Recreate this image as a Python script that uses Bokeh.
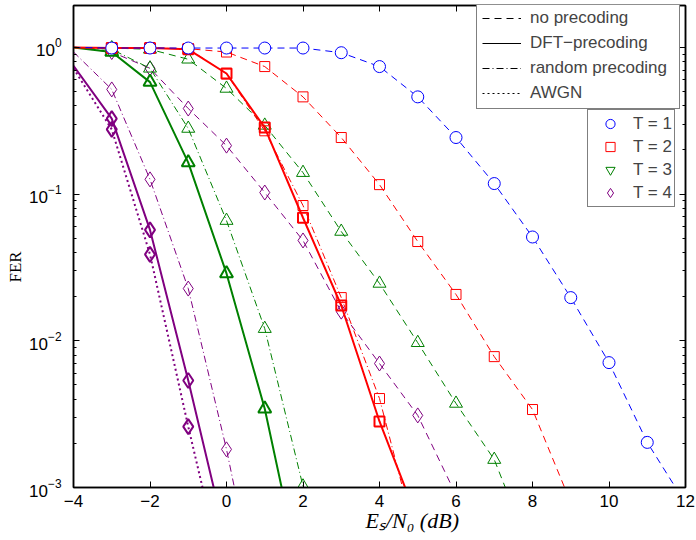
import math
from bokeh.plotting import figure
from bokeh.models import (Range1d, LinearAxis, LogAxis, FixedTicker, Legend, LegendItem,
                          Title, CustomJSTickFormatter)
from bokeh.embed import file_html
from bokeh.resources import INLINE

# ---------------- data ----------------
x_ticks = [-4, -2, 0, 2, 4, 6, 8, 10, 12]
y_ticks = [1e-3, 1e-2, 1e-1, 1.0]

# T = 1
snr_t1_none = [-4, -3, -2, -1, 0, 1, 2, 3, 4, 5, 6, 7, 8, 9, 10, 11, 12]
fer_t1_none = [1.0, 0.99, 0.99, 0.99, 0.99, 0.99, 0.99, 0.92, 0.74, 0.46, 0.243, 0.118,
               0.051, 0.0197, 0.0071, 0.00203, 0.00078]

# T = 2
snr_t2_none = [-4, -3, -2, -1, 0, 1, 2, 3, 4, 5, 6, 7, 8, 9]
fer_t2_none = [1.0, 0.99, 0.99, 0.98, 0.93, 0.74, 0.46, 0.243, 0.116, 0.0475, 0.0207,
               0.0078, 0.0034, 0.00079]
snr_t2_dft = [-4, -3, -2, -1, 0, 1, 2, 3, 4, 5]
fer_t2_dft = [1.0, 0.99, 0.99, 0.97, 0.664, 0.284, 0.069, 0.0174, 0.00282, 0.0006]
snr_t2_rand = [-4, -3, -2, -1, 0, 1, 2, 3, 4, 5]
fer_t2_rand = [1.0, 0.99, 0.99, 0.98, 0.66, 0.27, 0.0836, 0.0197, 0.00404, 0.0004]

# T = 3
snr_t3_none = [-4, -3, -2, -1, 0, 1, 2, 3, 4, 5, 6, 7, 8]
fer_t3_none = [1.0, 0.99, 0.97, 0.83, 0.525, 0.294, 0.14, 0.0556, 0.0246, 0.0097,
               0.00374, 0.00155, 0.00034]
snr_t3_dft = [-4, -3, -2, -1, 0, 1, 2]
fer_t3_dft = [1.0, 0.93, 0.58, 0.164, 0.0288, 0.00344, 0.00021]
snr_t3_rand = [-4, -3, -2, -1, 0, 1, 2, 3]
fer_t3_rand = [1.0, 0.97, 0.72, 0.28, 0.066, 0.0121, 0.00102, 0.0001]

# T = 4
snr_t4_none = [-4, -3, -2, -1, 0, 1, 2, 3, 4, 5, 6]
fer_t4_none = [1.0, 0.93, 0.72, 0.383, 0.214, 0.1025, 0.0483, 0.0158, 0.0070, 0.0031, 0.00089]
snr_t4_dft = [-4, -3, -2, -1, 0]
fer_t4_dft = [0.75, 0.327, 0.057, 0.00536, 0.00043]
snr_t4_rand = [-4, -3, -2, -1, 0, 1]
fer_t4_rand = [0.93, 0.517, 0.126, 0.0227, 0.00182, 0.0001]
snr_awgn = [-4, -3, -2, -1, 0]
fer_awgn = [0.72, 0.276, 0.0388, 0.0026, 0.0002]

legend_styles = ["no precoding", "DFT\u2212precoding", "random precoding", "AWGN"]
legend_T = ["T = 1", "T = 2", "T = 3", "T = 4"]
x_label = "E\u209b/N\u2080 (dB)"
y_label = "FER"

# ---------------- figure ----------------
BLUE, RED, GREEN, PURPLE = "#0000ff", "#ff0000", "#008000", "#800080"
DASH, DASHDOT, DOT = "7 5", "7 3 1 3", "2 3"
TICK_FONT = "Liberation Sans"
NAN = [float("nan")]

p = figure(width=696, height=540, x_range=Range1d(-4, 12), y_range=Range1d(1e-3, 1.93),
           y_axis_type="log", output_backend="svg", toolbar_location=None,
           min_border_left=73, min_border_right=11, min_border_top=5, min_border_bottom=53)
p.xgrid.visible = False
p.ygrid.visible = False
p.background_fill_color = "white"
p.border_fill_color = "white"
p.outline_line_color = "black"
p.outline_line_width = 1.5

minor = [m * 10 ** e for e in range(-3, 1) for m in range(2, 10)]
xticker = FixedTicker(ticks=x_ticks, minor_ticks=[])
yticker = FixedTicker(ticks=y_ticks, minor_ticks=minor)
blank = CustomJSTickFormatter(code="return '';")


def style_axis(ax, labels=True):
    ax.axis_line_color = "black"
    ax.axis_line_width = 1.5
    ax.major_tick_in = 6
    ax.major_tick_out = 0
    ax.minor_tick_in = 3
    ax.minor_tick_out = 0
    ax.major_tick_line_color = "black"
    ax.minor_tick_line_color = "black"
    ax.major_label_text_font = TICK_FONT
    ax.major_label_text_color = "black"
    if labels:
        ax.major_label_text_font_size = "17px"
    else:
        ax.formatter = blank
        ax.major_label_text_font_size = "1px"
        ax.major_label_standoff = 0


xa = p.xaxis[0]
xa.ticker = xticker
xa.formatter = CustomJSTickFormatter(
    code="return (tick < 0 ? '\\u2212' : '') + Math.abs(tick).toString();")
style_axis(xa)
xa.major_label_standoff = 7

ya = p.yaxis[0]
ya.ticker = yticker
style_axis(ya)
ya.major_label_standoff = 12

top = LinearAxis(ticker=xticker)
style_axis(top, labels=False)
p.add_layout(top, "above")
right = LogAxis(ticker=yticker)
style_axis(right, labels=False)
p.add_layout(right, "right")


def series(xs, ys, color, dash, lw, marker, msize, mlw, fill=None):
    p.line(xs, ys, line_color=color, line_dash=dash, line_width=lw)
    p.scatter(xs[1:], ys[1:], marker=marker, size=msize, line_color=color,
              line_width=mlw, fill_color=fill)


# T = 4
series(snr_awgn, fer_awgn, PURPLE, DOT, 2, "diamond", 15, 2)
series(snr_t4_rand, fer_t4_rand, PURPLE, DASHDOT, 1, "diamond", 15, 1)
series(snr_t4_dft, fer_t4_dft, PURPLE, "solid", 2, "diamond", 15, 2)
series(snr_t4_none, fer_t4_none, PURPLE, DASH, 1, "diamond", 15, 1)
# T = 3
series(snr_t3_rand, fer_t3_rand, GREEN, DASHDOT, 1, "triangle", 13, 1)
series(snr_t3_dft, fer_t3_dft, GREEN, "solid", 2, "triangle", 13, 2)
series(snr_t3_none, fer_t3_none, GREEN, DASH, 1, "triangle", 13, 1)
# T = 2
series(snr_t2_rand, fer_t2_rand, RED, DASHDOT, 1, "square", 10, 1)
series(snr_t2_dft, fer_t2_dft, RED, "solid", 2, "square", 10, 2)
series(snr_t2_none, fer_t2_none, RED, DASH, 1, "square", 10, 1)
# T = 1
series(snr_t1_none, fer_t1_none, BLUE, DASH, 1, "circle", 12, 1, fill="white")

# ---------------- legends (key-only renderers hold no drawable point) ----------------
ldash = p.line(NAN, NAN, line_color="black", line_dash=DASH, line_width=1)
lsolid = p.line(NAN, NAN, line_color="black", line_width=1)
ldd = p.line(NAN, NAN, line_color="black", line_dash=DASHDOT, line_width=1)
ldot = p.line(NAN, NAN, line_color="black", line_dash=DOT, line_width=1)
leg1 = Legend(items=[LegendItem(label=t, renderers=[r]) for t, r in
                     zip(legend_styles, [ldash, lsolid, ldd, ldot])],
              location=(403, 378), padding=5, spacing=5, glyph_height=18, glyph_width=39,
              label_standoff=9, label_width=144, label_text_font=TICK_FONT,
              label_text_font_size="17px", border_line_color="black", border_line_width=1,
              background_fill_color="white", background_fill_alpha=1.0, margin=0)

mk = []
for col, m in zip([BLUE, RED, GREEN, PURPLE], ["circle", "square", "inverted_triangle", "diamond"]):
    mk.append(p.scatter(NAN, NAN, marker=m, size=11, line_color=col, fill_color=None,
                        line_width=1))
leg2 = Legend(items=[LegendItem(label=t, renderers=[r]) for t, r in zip(legend_T, mk)],
              location=(514, 280), padding=2, spacing=0, glyph_height=23, glyph_width=40,
              label_standoff=3, label_width=39, label_text_font=TICK_FONT,
              label_text_font_size="17px", border_line_color="black", border_line_width=1,
              background_fill_color="white", background_fill_alpha=1.0, margin=0)
p.add_layout(leg1)
p.add_layout(leg2)

# ---------------- axis titles ----------------
p.add_layout(Title(text=x_label, align="left", offset=292, standoff=-8,
                   text_font="Liberation Serif", text_font_style="italic",
                   text_font_size="22px", text_color="black"), "below")
p.add_layout(Title(text=y_label, align="left", offset=205, standoff=4,
                   text_font="Liberation Serif", text_font_style="normal",
                   text_font_size="17px", text_color="black"), "left")

open("out.html", "w").write(file_html(p, INLINE))
